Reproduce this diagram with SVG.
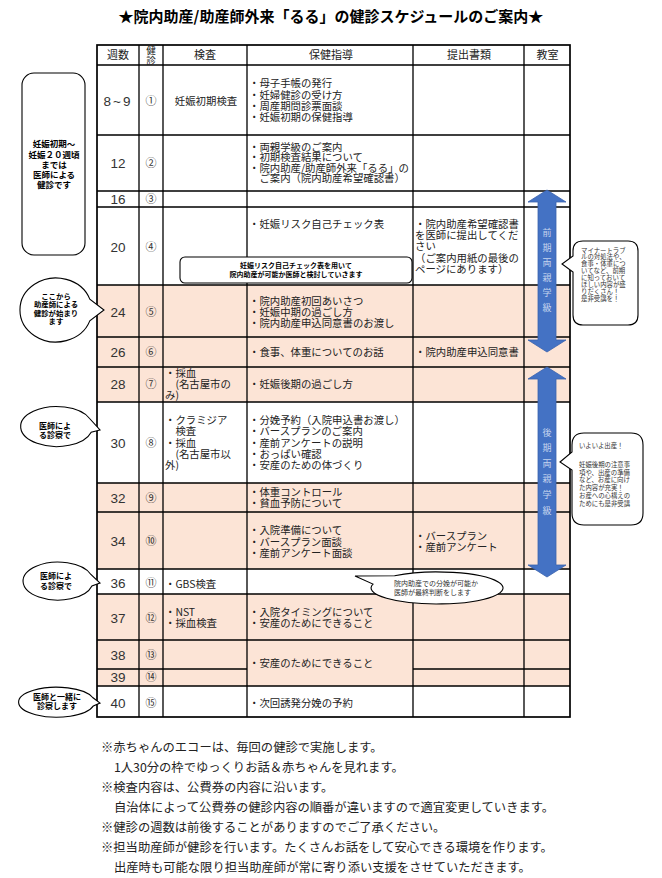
<svg xmlns="http://www.w3.org/2000/svg" width="662" height="878" viewBox="0 0 662 878">
<style>
.t{font-family:"Noto Sans CJK JP",sans-serif;font-size:10.4px;fill:#222}
.h{font-family:"Noto Sans CJK JP",sans-serif;font-size:11px;fill:#222;text-anchor:middle}
.wk{font-family:"Liberation Sans","Noto Sans CJK JP",sans-serif;font-size:13.5px;fill:#333;text-anchor:middle}
.cn{font-family:"Noto Sans CJK JP",sans-serif;font-size:11px;fill:#333;text-anchor:middle}
.cb{font-family:"Noto Sans CJK JP",sans-serif;font-weight:bold;fill:#000;text-anchor:middle}
.cs{font-family:"Noto Sans CJK JP",sans-serif;fill:#333}
.note{font-family:"Noto Sans CJK JP",sans-serif;font-size:12.3px;fill:#222}
.vt{font-family:"Noto Sans CJK JP",sans-serif;font-size:9px;fill:#C5D4EE;text-anchor:middle}
.pink{fill:#FCE4D6}
.ln{stroke:#000;stroke-width:1.3;fill:none}
.co{fill:#fff;stroke:#000;stroke-width:1.1}
.arr{fill:#4472C4;stroke:#3A62AD;stroke-width:0.8}
</style>
<rect width="662" height="878" fill="#fff"/>
<text x="331" y="22" style="font-family:'Noto Sans CJK JP',sans-serif;font-size:15px;font-weight:bold;fill:#000;text-anchor:middle">★院内助産/助産師外来「るる」の健診スケジュールのご案内★</text>

<g id="table">
<g id="fills">
<rect class="pink" x="97" y="285" width="473" height="82"/>
<rect class="pink" x="97" y="367" width="473" height="35"/>
<rect class="pink" x="97" y="483" width="473" height="86"/>
<rect class="pink" x="97" y="594" width="473" height="92"/>
</g>
<g id="grid">
<path class="ln" d="M97 65H570M97 135H570M97 191H570M97 207H570M97 285H570M97 337H570M97 367H570M97 402H570M97 483H570M97 512H570M97 569H570M97 594H570M97 640H570M97 669H247M413 669H570M97 686H570"/>
<path class="ln" d="M139 45V717M163 45V717M247 45V717M413 45V717M524 45V717"/>
<rect x="97" y="45" width="473" height="672" fill="none" stroke="#000" stroke-width="1.7"/>
</g>
<g id="header">
<text class="h" x="118" y="59">週数</text>
<text class="h" x="151" y="53.5" style="font-size:9.5px">健</text>
<text class="h" x="151" y="63.5" style="font-size:9.5px">診</text>
<text class="h" x="205" y="59">検査</text>
<text class="h" x="331" y="59">保健指導</text>
<text class="h" x="469" y="59">提出書類</text>
<text class="h" x="547.5" y="59">教室</text>
</g>
<g id="row-8-9">
<text class="wk" x="118" y="106" letter-spacing="2">8~9</text>
<text class="cn" x="151" y="105">①</text>
<text class="t" x="206" y="105" text-anchor="middle">妊娠初期検査</text>
<text class="t" x="249" y="87.3">・母子手帳の発行</text>
<text class="t" x="249" y="98.6">・妊婦健診の受け方</text>
<text class="t" x="249" y="109.9">・周産期問診票面談</text>
<text class="t" x="249" y="121.2">・妊娠初期の保健指導</text>
</g>
<g id="row-12">
<text class="wk" x="118" y="168">12</text>
<text class="cn" x="151" y="167">②</text>
<text class="t" x="249" y="150.7">・両親学級のご案内</text>
<text class="t" x="249" y="161.2">・初期検査結果について</text>
<text class="t" x="249" y="171.7">・院内助産/助産師外来「るる」の</text>
<text class="t" x="249" y="182.2">　ご案内（院内助産希望確認書）</text>
</g>
<g id="row-16">
<text class="wk" x="118" y="204">16</text>
<text class="cn" x="151" y="203">③</text>
</g>
<g id="row-20">
<text class="wk" x="118" y="252">20</text>
<text class="cn" x="151" y="251">④</text>
<text class="t" x="249" y="227.5">・妊娠リスク自己チェック表</text>
<text class="t" x="415" y="227.5">・院内助産希望確認書</text>
<text class="t" x="415" y="238.9">を医師に提出してくだ</text>
<text class="t" x="415" y="250.3">さい</text>
<text class="t" x="415" y="261.7">（ご案内用紙の最後の</text>
<text class="t" x="415" y="273.1">ページにあります）</text>
</g>
<g id="row-24">
<text class="wk" x="118" y="317">24</text>
<text class="cn" x="151" y="316">⑤</text>
<text class="t" x="249" y="304.5">・院内助産初回あいさつ</text>
<text class="t" x="249" y="315.7">・妊娠中期の過ごし方</text>
<text class="t" x="249" y="326.9">・院内助産申込同意書のお渡し</text>
</g>
<g id="row-26">
<text class="wk" x="118" y="357">26</text>
<text class="cn" x="151" y="356">⑥</text>
<text class="t" x="249" y="356">・食事、体重についてのお話</text>
<text class="t" x="415" y="356">・院内助産申込同意書</text>
</g>
<g id="row-28">
<text class="wk" x="118" y="389">28</text>
<text class="cn" x="151" y="388">⑦</text>
<text class="t" x="165" y="377">・採血</text>
<text class="t" x="165" y="388">　(名古屋市の</text>
<text class="t" x="165" y="399">み)</text>
<text class="t" x="249" y="387.5">・妊娠後期の過ごし方</text>
</g>
<g id="row-30">
<text class="wk" x="118" y="448">30</text>
<text class="cn" x="151" y="447">⑧</text>
<text class="t" x="165" y="424">・クラミジア</text>
<text class="t" x="165" y="435.3">　検査</text>
<text class="t" x="165" y="446.6">・採血</text>
<text class="t" x="165" y="457.9">　(名古屋市以</text>
<text class="t" x="165" y="469.2">外)</text>
<text class="t" x="249" y="424">・分娩予約（入院申込書お渡し）</text>
<text class="t" x="249" y="435.3">・バースプランのご案内</text>
<text class="t" x="249" y="446.6">・産前アンケートの説明</text>
<text class="t" x="249" y="457.9">・おっぱい確認</text>
<text class="t" x="249" y="469.2">・安産のための体づくり</text>
</g>
<g id="row-32">
<text class="wk" x="118" y="503">32</text>
<text class="cn" x="151" y="502">⑨</text>
<text class="t" x="249" y="496">・体重コントロール</text>
<text class="t" x="249" y="507.2">・貧血予防について</text>
</g>
<g id="row-34">
<text class="wk" x="118" y="546">34</text>
<text class="cn" x="151" y="545">⑩</text>
<text class="t" x="249" y="534.3">・入院準備について</text>
<text class="t" x="249" y="545.5">・バースプラン面談</text>
<text class="t" x="249" y="556.7">・産前アンケート面談</text>
<text class="t" x="415" y="539.5">・バースプラン</text>
<text class="t" x="415" y="550.7">・産前アンケート</text>
</g>
<g id="row-36">
<text class="wk" x="118" y="588">36</text>
<text class="cn" x="151" y="587">⑪</text>
<text class="t" x="165" y="587.5">・GBS検査</text>
</g>
<g id="row-37">
<text class="wk" x="118" y="623">37</text>
<text class="cn" x="151" y="622">⑫</text>
<text class="t" x="165" y="615.7">・NST</text>
<text class="t" x="165" y="626.9">・採血検査</text>
<text class="t" x="249" y="615.7">・入院タイミングについて</text>
<text class="t" x="249" y="626.9">・安産のためにできること</text>
</g>
<g id="row-38">
<text class="wk" x="118" y="660">38</text>
<text class="cn" x="151" y="659">⑬</text>
<text class="t" x="249" y="666.7">・安産のためにできること</text>
</g>
<g id="row-39">
<text class="wk" x="118" y="682">39</text>
<text class="cn" x="151" y="681">⑭</text>
</g>
<g id="row-40">
<text class="wk" x="118" y="708">40</text>
<text class="cn" x="151" y="707">⑮</text>
<text class="t" x="249" y="707">・次回誘発分娩の予約</text>
</g>
</g>

<g id="connectors">
<g id="arrow-early">
<polygon class="arr" points="547,190 566,202 556,202 556,340 566,340 547,352 528,340 538,340 538,202 528,202"/>
<text class="vt" x="547" y="236">前</text>
<text class="vt" x="547" y="251">期</text>
<text class="vt" x="547" y="266">両</text>
<text class="vt" x="547" y="281">親</text>
<text class="vt" x="547" y="296">学</text>
<text class="vt" x="547" y="311">級</text>
</g>
<g id="arrow-late">
<polygon class="arr" points="547,367 566,379 556,379 556,565 566,565 547,577 528,565 538,565 538,379 528,379"/>
<text class="vt" x="547" y="436">後</text>
<text class="vt" x="547" y="451">期</text>
<text class="vt" x="547" y="467">両</text>
<text class="vt" x="547" y="482">親</text>
<text class="vt" x="547" y="498">学</text>
<text class="vt" x="547" y="514">級</text>
</g>
</g>

<g id="note-doctor-early">
<rect class="co" x="22" y="73" width="63" height="182" rx="12"/>
<text class="cb" style="font-size:8.5px" x="54" y="147">妊娠初期～</text>
<text class="cb" style="font-size:8.5px" x="54" y="157.5">妊娠２０週頃</text>
<text class="cb" style="font-size:8.5px" x="54" y="168">までは</text>
<text class="cb" style="font-size:8.5px" x="54" y="178">医師による</text>
<text class="cb" style="font-size:8.5px" x="54" y="188">健診です</text>
</g>
<g id="bubble-midwife-start">
<path class="co" d="M89.8 320.9 A36 32 0 1 1 89.8 299.1 L104 310 Z"/>
<text class="cb" style="font-size:7.4px" x="56" y="299">ここから</text>
<text class="cb" style="font-size:7.4px" x="56" y="307.3">助産師による</text>
<text class="cb" style="font-size:7.4px" x="56" y="315.6">健診が始まり</text>
<text class="cb" style="font-size:7.4px" x="56" y="324">ます</text>
</g>
<g id="bubble-doctor-30">
<path class="co" d="M91.2 432.2 A36 20 0 1 1 89.6 418.5 L100 430 Z"/>
<text class="cb" style="font-size:8px" x="55" y="429">医師によ</text>
<text class="cb" style="font-size:8px" x="55" y="437.7">る診察で</text>
</g>
<g id="bubble-doctor-36">
<path class="co" d="M91.9 585.9 A35 19 0 1 1 90.9 574.5 L100 583 Z"/>
<text class="cb" style="font-size:8px" x="56" y="579">医師によ</text>
<text class="cb" style="font-size:8px" x="56" y="588.7">る診察で</text>
</g>
<g id="bubble-doctor-40">
<path class="co" d="M93.4 705.9 A38 15 0 1 1 92.7 697.5 L100 703 Z"/>
<text class="cb" style="font-size:8px" x="57" y="700">医師と一緒に</text>
<text class="cb" style="font-size:8px" x="57" y="709">診察します</text>
</g>
<g id="note-risk-check">
<rect class="co" x="180" y="257" width="232" height="26" rx="5"/>
<text class="cb" style="font-size:7px" x="296" y="267.5">妊娠リスク自己チェック表を用いて</text>
<text class="cb" style="font-size:7px" x="296" y="276.5">院内助産が可能か医師と検討していきます</text>
</g>
<g id="bubble-final-decision">
<path class="co" d="M394.6 575.7 A66 16 0 1 1 373 584.1 L355 576 Z"/>
<text class="cs" style="font-size:7px" x="394" y="585.5">院内助産での分娩が可能か</text>
<text class="cs" style="font-size:7px" x="394" y="594.5">医師が最終判断をします</text>
</g>
<g id="note-early-class">
<path class="co" d="M583 241H628Q638 241 638 251V315Q638 325 628 325H583Q573 325 573 315V272L562 264L573 256V251Q573 241 583 241Z"/>
<g class="cs" style="font-size:6.4px">
<text x="581" y="252.5">マイナートラブ</text>
<text x="581" y="259.4">ルの対処法や、</text>
<text x="581" y="266.3">食事・体重につ</text>
<text x="581" y="273.2">いてなど、前期</text>
<text x="581" y="280.1">に知っておいて</text>
<text x="581" y="287">ほしい内容が盛</text>
<text x="581" y="293.9">りだくさん！</text>
<text x="581" y="300.8">是非受講を！</text>
</g>
</g>
<g id="note-late-class">
<path class="co" d="M584 433H631Q643 433 643 445V513Q643 525 631 525H584Q572 525 572 513V470L560 462L572 452V445Q572 433 584 433Z"/>
<g class="cs" style="font-size:6.4px">
<text x="579" y="448">いよいよ出産！</text>
<text x="579" y="466.8">妊娠後期の注意事</text>
<text x="579" y="474.6">項や、出産の準備</text>
<text x="579" y="482.4">など、お産に向け</text>
<text x="579" y="490.2">た内容が充実！</text>
<text x="579" y="498">お産への心構えの</text>
<text x="579" y="505.8">ためにも是非受講</text>
</g>
</g>

<g id="notes">
<text class="note" x="101" y="751.8">※赤ちゃんのエコーは、毎回の健診で実施します。</text>
<text class="note" x="114" y="771.8">1人30分の枠でゆっくりお話＆赤ちゃんを見れます。</text>
<text class="note" x="101" y="791.8">※検査内容は、公費券の内容に沿います。</text>
<text class="note" x="114" y="811.8">自治体によって公費券の健診内容の順番が違いますので適宜変更していきます。</text>
<text class="note" x="101" y="831.8">※健診の週数は前後することがありますのでご了承ください。</text>
<text class="note" x="101" y="851.8">※担当助産師が健診を行います。たくさんお話をして安心できる環境を作ります。</text>
<text class="note" x="114" y="871.8">出産時も可能な限り担当助産師が常に寄り添い支援をさせていただきます。</text>
</g>
</svg>
